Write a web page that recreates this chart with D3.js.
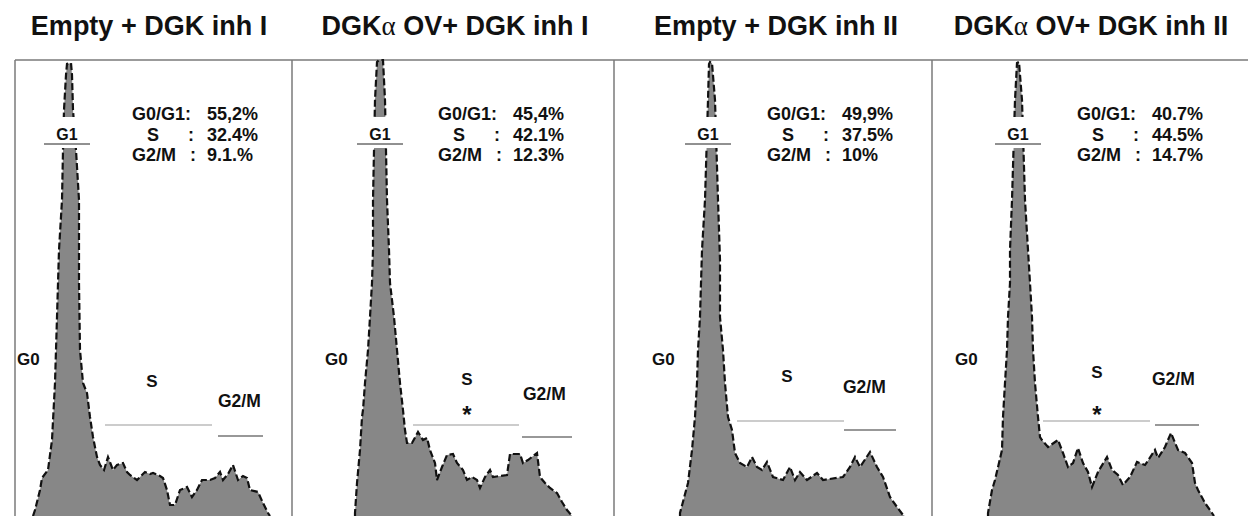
<!DOCTYPE html>
<html>
<head>
<meta charset="utf-8">
<script src="https://cdn.jsdelivr.net/npm/d3@7"></script>
<style>
body { margin: 0; background: #fff; }
svg { display: block; font-family: "Liberation Sans", Arial, sans-serif; font-weight: bold; fill: #111; }
.hist { fill: #878787; stroke: none; }
.outline { fill: none; stroke: #111; stroke-width: 2.2; stroke-dasharray: 7,3; }
.frame { stroke: #7a7a7a; stroke-width: 1.5; }
</style>
</head>
<body>
<div id="chart"></div>
<script>
// panel titles
var titles = ["Empty + DGK inh I", "DGK\u03b1 OV+ DGK inh I", "Empty + DGK inh II", "DGK\u03b1 OV+ DGK inh II"];

// cell cycle percentages, per panel: G0/G1, S, G2/M
var g0g1 = ["55,2%", "45,4%", "49,9%", "40.7%"];
var sPhase = ["32.4%", "42.1%", "37.5%", "44.5%"];
var g2m = ["9.1.%", "12.3%", "10%", "14.7%"];
var starred = [false, true, false, true];

// DNA histograms (channel, count)
var ch1 = [18, 20, 25, 27, 33, 35, 37, 40, 42, 44, 47, 48, 49, 51, 52, 56, 57, 58, 61, 64, 64, 64, 65, 68, 72, 75, 78, 82, 85, 89, 93, 98, 102, 108, 112, 115, 122, 130, 135, 138, 145, 148, 152, 155, 160, 165, 172, 177, 182, 187, 195, 200, 205, 208, 213, 218, 223, 228, 232, 235, 243, 248, 253, 255];
var ct1 = [0, 6, 26, 38, 46, 61, 76, 133, 199, 266, 316, 366, 406, 441, 452, 453, 441, 406, 366, 316, 266, 233, 166, 133, 123, 99, 79, 59, 51, 46, 59, 46, 51, 53, 44, 41, 36, 44, 42, 43, 40, 38, 26, 11, 11, 26, 29, 19, 26, 36, 36, 38, 44, 36, 42, 51, 36, 40, 38, 26, 24, 13, 3, 0];

var ch2 = [63, 63, 65, 68, 70, 71, 73, 76, 78, 80, 81, 81, 83, 85, 87, 91, 93, 95, 97, 98, 102, 105, 108, 111, 113, 115, 120, 126, 131, 135, 138, 143, 145, 150, 155, 161, 165, 171, 175, 180, 185, 188, 193, 198, 201, 215, 218, 228, 231, 236, 245, 248, 253, 258, 265, 270, 275, 280];
var ct2 = [0, 3, 33, 66, 99, 106, 133, 166, 199, 233, 266, 316, 416, 454, 456, 456, 416, 316, 266, 233, 199, 166, 133, 106, 86, 73, 73, 84, 76, 78, 66, 53, 36, 49, 61, 62, 53, 46, 36, 39, 36, 28, 39, 46, 39, 41, 62, 62, 53, 56, 63, 39, 33, 28, 23, 14, 6, 0];

var ch3 = [66, 66, 74, 78, 81, 83, 84, 86, 88, 91, 94, 95, 96, 98, 101, 104, 106, 106, 109, 111, 114, 118, 121, 126, 133, 138, 143, 148, 153, 159, 169, 176, 181, 186, 193, 203, 209, 229, 236, 241, 246, 256, 263, 269, 276, 283, 289, 291];
var ct3 = [0, 3, 33, 66, 99, 133, 166, 199, 266, 316, 416, 452, 454, 453, 416, 316, 256, 199, 166, 133, 99, 86, 63, 53, 49, 59, 49, 46, 54, 39, 36, 49, 36, 44, 36, 43, 36, 39, 49, 59, 49, 64, 49, 39, 19, 9, 1, 0];

var ch4 = [56, 56, 60, 63, 70, 71, 73, 75, 76, 78, 78, 80, 83, 85, 87, 90, 93, 96, 98, 100, 101, 103, 106, 108, 110, 116, 126, 131, 136, 141, 146, 151, 156, 160, 166, 175, 180, 186, 191, 198, 205, 213, 223, 226, 233, 239, 246, 253, 260, 263, 266, 273, 280, 282];
var ct4 = [0, 3, 26, 36, 66, 99, 133, 166, 199, 233, 266, 316, 416, 453, 454, 416, 316, 266, 233, 199, 166, 133, 99, 79, 76, 69, 76, 63, 49, 53, 68, 53, 44, 29, 44, 59, 46, 41, 31, 39, 54, 51, 66, 58, 69, 83, 66, 63, 53, 33, 26, 13, 3, 0];

var channels = [ch1, ch2, ch3, ch4];
var counts = [ct1, ct2, ct3, ct4];

// page layout (pixels)
var width = 1248;
var height = 516;
var frameTop = 60;
var lefts = [15, 292, 614, 932];
var titleX = [149, 455, 776, 1091];
var g1X = [67, 380, 708, 1018];
var statX = [132, 438, 767, 1077];
var g0X = [17, 325, 652, 955];
var sX = [152, 467, 787, 1097];
var sY = [387, 385, 382, 378];
var g2mX = [218, 523, 843, 1152];
var g2mY = [407, 400, 393, 385];
var sLine = [[105, 212, 425], [413, 519, 425], [737, 844, 421], [1043, 1150, 421]];
var g2mLine = [[218, 263, 436], [522, 572, 437], [844, 896, 430], [1155, 1199, 425]];

var y = d3.scaleLinear().domain([0, 456]).range([height, frameTop]);

var svg = d3.select('#chart')
	.append('svg')
	.attr('width', width)
	.attr('height', height);

// frame
svg.append('line').attr('class', 'frame')
	.attr('x1', lefts[0]).attr('x2', width)
	.attr('y1', frameTop).attr('y2', frameTop);
lefts.forEach(function (l) {
    svg.append('line').attr('class', 'frame')
	    .attr('x1', l).attr('x2', l)
	    .attr('y1', frameTop).attr('y2', height);
});

function panel(i) {
    var x = d3.scaleLinear().domain([0, 320]).range([lefts[i], lefts[i] + 320]);
    var data = channels[i].map(function (c, j) {
	return {ch: c, n: counts[i][j]};
    });
    var area = d3.area()
	    .x(function (d) { return x(d.ch); })
	    .y0(y(0))
	    .y1(function (d) { return y(d.n); });
    var line = d3.line()
	    .x(function (d) { return x(d.ch); })
	    .y(function (d) { return y(d.n); });

    var g = svg.append('g');
    g.append('path').datum(data).attr('class', 'hist').attr('d', area);
    g.append('path').datum(data).attr('class', 'outline').attr('d', line);

    // title
    var t = g.append('text')
	    .attr('x', titleX[i]).attr('y', 35)
	    .attr('text-anchor', 'middle')
	    .style('font-size', '27px');
    var parts = titles[i].split('\u03b1');
    t.append('tspan').text(parts[0]);
    if (parts.length > 1) {
	t.append('tspan').text('\u03b1')
		.style('font-family', '"Liberation Serif", serif')
		.style('font-weight', 'normal');
	t.append('tspan').text(parts[1]);
    }

    // G1 label over the peak
    g.append('rect')
	    .attr('x', g1X[i] - 25).attr('y', 117)
	    .attr('width', 50).attr('height', 31)
	    .attr('fill', '#fff');
    g.append('text')
	    .attr('x', g1X[i]).attr('y', 140)
	    .attr('text-anchor', 'middle')
	    .style('font-size', '16px')
	    .text('G1');
    g.append('line')
	    .attr('x1', g1X[i] - 23).attr('x2', g1X[i] + 23)
	    .attr('y1', 144).attr('y2', 144)
	    .attr('stroke', '#222').attr('stroke-width', 1);

    // percentages
    var lx = statX[i];
    var rows = [["G0/G1:", null, g0g1[i]], ["S", ":", sPhase[i]], ["G2/M", ":", g2m[i]]];
    rows.forEach(function (r, k) {
	var yy = 120 + k * 20.5;
	g.append('text').attr('x', k === 1 ? lx + 15 : lx).attr('y', yy)
		.style('font-size', '18px').text(r[0]);
	if (r[1]) {
	    g.append('text').attr('x', lx + (k === 1 ? 56 : 58)).attr('y', yy)
		    .style('font-size', '18px').text(r[1]);
	}
	g.append('text').attr('x', lx + 75).attr('y', yy)
		.style('font-size', '18px').text(r[2]);
    });

    // phase labels
    g.append('text').attr('x', g0X[i]).attr('y', 365)
	    .style('font-size', '17px').text('G0');
    g.append('text').attr('x', sX[i]).attr('y', sY[i])
	    .attr('text-anchor', 'middle')
	    .style('font-size', '17px').text('S');
    if (starred[i]) {
	g.append('text').attr('x', sX[i]).attr('y', 423)
		.attr('text-anchor', 'middle')
		.style('font-size', '24px').text('*');
    }
    g.append('text').attr('x', g2mX[i]).attr('y', g2mY[i])
	    .style('font-size', '17.5px').text('G2/M');

    g.append('line')
	    .attr('x1', sLine[i][0]).attr('x2', sLine[i][1])
	    .attr('y1', sLine[i][2]).attr('y2', sLine[i][2])
	    .attr('stroke', '#9a9a9a').attr('stroke-width', 1.2);
    g.append('line')
	    .attr('x1', g2mLine[i][0]).attr('x2', g2mLine[i][1])
	    .attr('y1', g2mLine[i][2]).attr('y2', g2mLine[i][2])
	    .attr('stroke', '#333').attr('stroke-width', 1.2);
}

for (var i = 0; i < 4; i++) {
    panel(i);
}
</script>
</body>
</html>
